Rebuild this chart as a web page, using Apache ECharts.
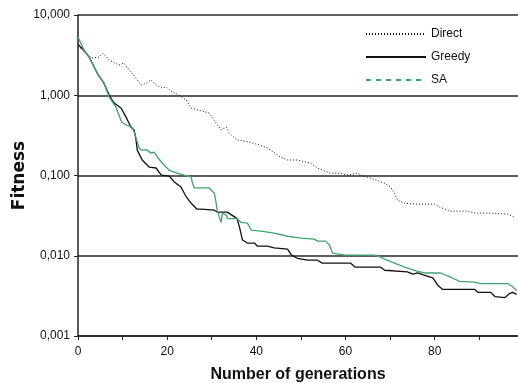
<!DOCTYPE html>
<html>
<head>
<meta charset="utf-8">
<script src="https://cdn.jsdelivr.net/npm/echarts@6/dist/echarts.min.js"></script>
<style>
  html, body { margin: 0; padding: 0; background: #fff; }
  #chart { width: 518px; height: 383px; }
</style>
</head>
<body>
<div id="chart"></div>
<script>
// generation / fitness pairs
const directGen = [0, 0.9, 3.1, 4.7, 5.6, 7.0, 9.2, 10.3, 11.5, 13.0, 14.2, 15.3, 16.4, 17.5, 18.9, 19.8, 21.1, 22.7, 24.3, 25.4, 27.2, 29.4, 31.0, 32.1, 33.3, 33.9, 35.5, 38.4, 40.7, 42.5, 45.4, 47.0, 49.2, 52.1, 53.7, 56.6, 58.9, 60.4, 62.7, 63.4, 65.6, 68.8, 70.1, 71.0, 71.7, 73.3, 76.2, 80.0, 81.3, 83.6, 87.4, 89.0, 92.6, 96.4, 98.0];
const directFit = [4.0, 3.66, 2.91, 2.99, 3.36, 2.75, 2.38, 2.52, 2.06, 1.64, 1.34, 1.42, 1.55, 1.34, 1.23, 1.27, 1.10, 1.00, 0.87, 0.69, 0.65, 0.60, 0.45, 0.37, 0.40, 0.34, 0.28, 0.26, 0.24, 0.22, 0.17, 0.156, 0.156, 0.143, 0.124, 0.107, 0.107, 0.101, 0.107, 0.101, 0.093, 0.080, 0.072, 0.060, 0.049, 0.045, 0.044, 0.044, 0.040, 0.036, 0.036, 0.034, 0.034, 0.033, 0.030];

const greedyGen = [0, 1.3, 2.5, 4.3, 5.8, 7.0, 8.1, 9.7, 10.8, 11.9, 12.6, 13.0, 13.3, 14.4, 16.0, 17.5, 18.7, 20.5, 21.6, 23.1, 24.3, 25.4, 26.7, 27.6, 30.6, 31.2, 33.5, 35.7, 36.2, 36.9, 38.0, 39.6, 40.2, 42.5, 44.0, 47.0, 47.9, 49.2, 51.5, 53.7, 54.8, 61.1, 62.2, 67.9, 68.8, 73.9, 75.1, 76.2, 77.8, 79.6, 80.7, 81.8, 89.0, 89.7, 92.6, 93.5, 95.7, 96.9, 97.5, 98.4];
const greedyFit = [4.3, 3.66, 2.99, 1.89, 1.42, 1.0, 0.80, 0.69, 0.53, 0.40, 0.37, 0.28, 0.207, 0.156, 0.127, 0.124, 0.101, 0.098, 0.083, 0.072, 0.054, 0.045, 0.038, 0.038, 0.037, 0.035, 0.035, 0.029, 0.023, 0.0157, 0.0144, 0.0144, 0.0132, 0.0132, 0.0125, 0.0121, 0.0102, 0.0093, 0.0088, 0.0088, 0.0081, 0.0081, 0.0072, 0.0072, 0.0066, 0.0063, 0.0059, 0.0061, 0.0057, 0.0053, 0.0043, 0.0038, 0.0038, 0.0035, 0.0035, 0.0031, 0.0030, 0.0034, 0.0035, 0.0033];

const saGen = [0, 1.3, 2.5, 4.3, 5.8, 7.0, 8.5, 9.8, 11.0, 12.1, 12.6, 13.7, 14.2, 15.3, 16.4, 17.1, 17.8, 18.9, 20.4, 22.2, 23.8, 25.4, 25.6, 26.1, 29.4, 30.6, 31.0, 31.2, 32.1, 32.4, 33.3, 33.5, 35.7, 36.6, 38.0, 38.9, 41.1, 44.0, 47.0, 50.1, 53.0, 53.7, 55.5, 56.4, 57.1, 57.5, 59.8, 66.5, 67.9, 68.8, 71.0, 73.3, 76.2, 77.8, 81.3, 83.6, 85.6, 89.0, 90.3, 96.4, 97.5, 98.4];
const saFit = [5.3, 3.7, 2.99, 1.89, 1.42, 0.95, 0.71, 0.46, 0.42, 0.40, 0.35, 0.22, 0.207, 0.21, 0.19, 0.196, 0.17, 0.143, 0.117, 0.107, 0.101, 0.096, 0.083, 0.070, 0.070, 0.060, 0.045, 0.037, 0.026, 0.034, 0.032, 0.029, 0.029, 0.026, 0.0255, 0.0208, 0.0203, 0.0191, 0.0175, 0.0166, 0.0161, 0.0152, 0.0152, 0.0136, 0.0108, 0.0102, 0.0102, 0.0102, 0.0096, 0.0091, 0.0081, 0.0072, 0.0064, 0.0061, 0.0061, 0.0054, 0.0048, 0.0047, 0.0045, 0.0045, 0.0041, 0.0037];

const xTickLabels = ['0', '20', '40', '60', '80'];
const seriesNames = ['Direct', 'Greedy', 'SA'];

const pairs = (g, f) => g.map((x, i) => [x, f[i]]);

const chart = echarts.init(document.getElementById('chart'), null, { renderer: 'canvas' });

const labelFont = { color: '#111', fontFamily: 'Liberation Sans, Arial, sans-serif', fontSize: 12 };

chart.setOption({
  backgroundColor: '#fff',
  animation: false,
  grid: { left: 78, right: 0, top: 15, bottom: 47, outerBoundsMode: 'none' },
  legend: {
    orient: 'vertical',
    left: 365,
    top: 28,
    padding: 0,
    itemWidth: 60,
    itemHeight: 14,
    itemGap: 11,
    itemStyle: { opacity: 0 },
    textStyle: { color: '#111', fontFamily: 'Liberation Sans, Arial, sans-serif', fontSize: 12 },
    data: [
      { name: 'Direct' },
      { name: 'Greedy' },
      { name: 'SA', lineStyle: { type: [5, 5] } },
    ],
  },
  xAxis: {
    type: 'value',
    min: 0,
    max: 98.7,
    interval: 10,
    name: 'Number of generations',
    nameLocation: 'middle',
    nameGap: 31,
    nameMoveOverlap: false,
    nameTextStyle: { color: '#111', fontFamily: 'Liberation Sans, Arial, sans-serif', fontSize: 16, fontWeight: 'bold' },
    axisLine: { lineStyle: { color: '#222', width: 1.5 } },
    axisTick: { length: 4, lineStyle: { color: '#222' } },
    axisLabel: {
      ...labelFont,
      margin: 10,
      showMaxLabel: false,
      formatter: (v) => (xTickLabels.includes(String(v)) ? String(v) : ''),
    },
    splitLine: { show: false },
  },
  yAxis: {
    type: 'log',
    logBase: 10,
    min: 0.001,
    max: 10,
    name: 'Fitness',
    nameLocation: 'middle',
    nameGap: 50,
    nameMoveOverlap: false,
    nameTextStyle: { color: '#111', fontFamily: 'DejaVu Sans, sans-serif', fontSize: 17, fontWeight: 'bold' },
    axisLine: { show: true, lineStyle: { color: '#222', width: 1.5 } },
    axisTick: { show: true, length: 4, lineStyle: { color: '#222' } },
    axisLabel: {
      ...labelFont,
      margin: 8,
      formatter: (v) => v.toFixed(3).replace('.', ','),
    },
    splitLine: { show: true, lineStyle: { color: '#2a2a2a', width: 1.5 } },
  },
  series: [
    {
      name: seriesNames[0],
      type: 'line',
      data: pairs(directGen, directFit),
      symbol: 'none',
      lineStyle: { color: '#111', width: 1, type: [1, 2] },
      itemStyle: { color: '#111' },
      z: 3,
    },
    {
      name: seriesNames[1],
      type: 'line',
      data: pairs(greedyGen, greedyFit),
      symbol: 'none',
      lineStyle: { color: '#111', width: 1.3 },
      itemStyle: { color: '#111' },
      z: 3,
    },
    {
      name: seriesNames[2],
      type: 'line',
      data: pairs(saGen, saFit),
      symbol: 'none',
      lineStyle: { color: '#3fa376', width: 1.3 },
      itemStyle: { color: '#3fa376' },
      z: 4,
    },
  ],
});
</script>
</body>
</html>
